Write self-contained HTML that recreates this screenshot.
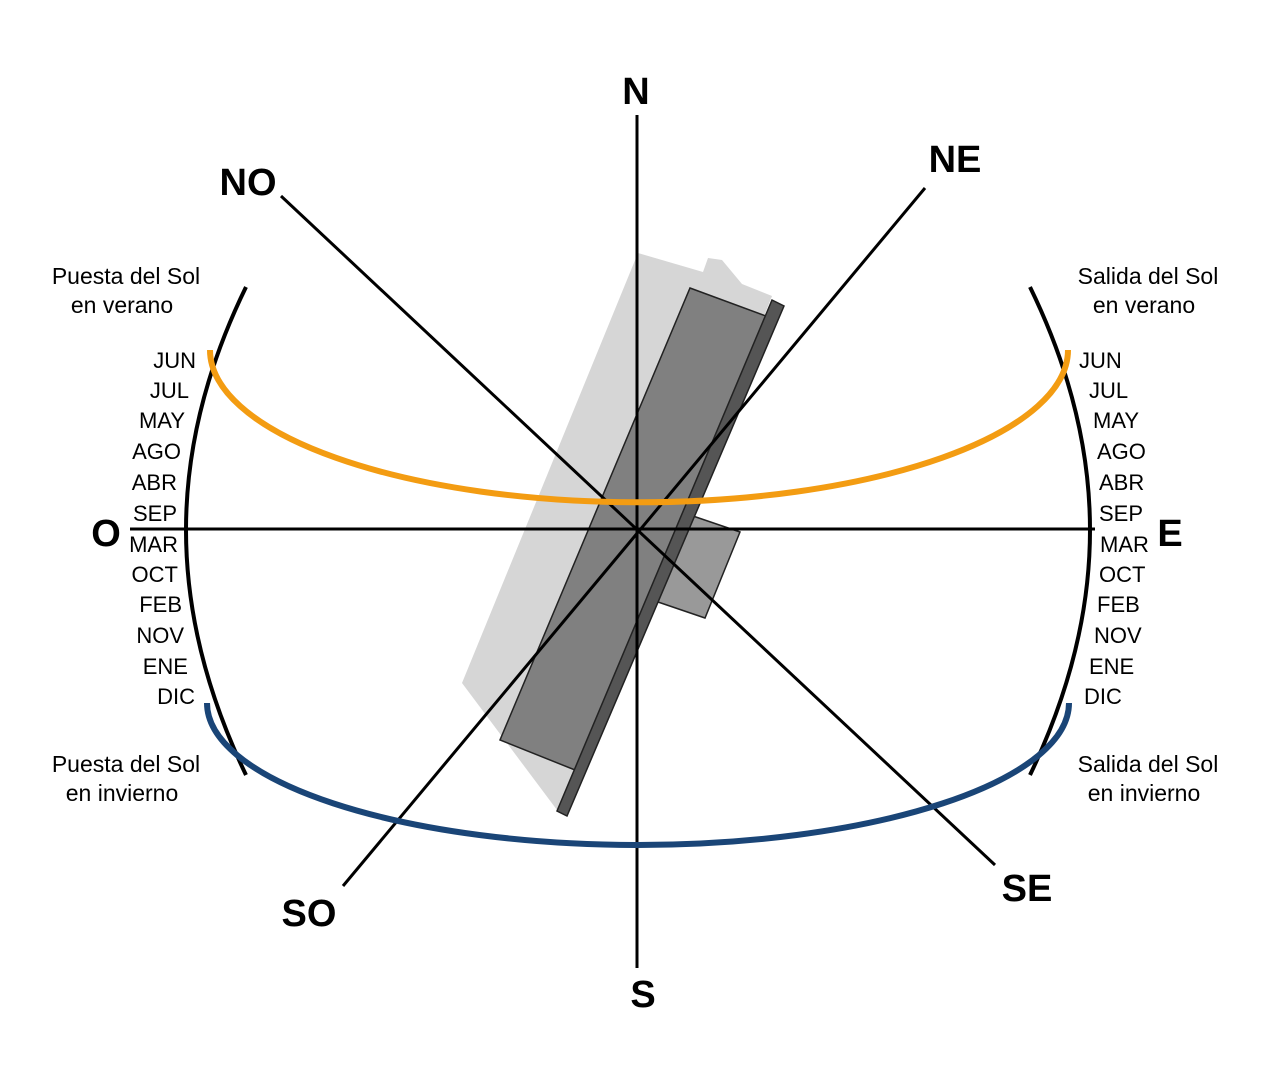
<!DOCTYPE html>
<html><head><meta charset="utf-8"><style>
body{margin:0;background:#fff}
svg text{font-family:"Liberation Sans",sans-serif}
</style></head><body>
<svg width="1280" height="1074" viewBox="0 0 1280 1074" xmlns="http://www.w3.org/2000/svg">
<rect width="1280" height="1074" fill="#fff"/>
<polygon points="638,253 703,272 708,258 722,260 742,284 772,296 567,815 557,810 462,683" fill="#d6d6d6"/>
<polygon points="690,288 766,316 575,770 500,740" fill="#808080" stroke="#222" stroke-width="1.5"/>
<polygon points="690,515 740,532 705,618 658,602" fill="#999" stroke="#222" stroke-width="1.5"/>
<polygon points="772,300 784,306 567,816 557,811" fill="#555" stroke="#222" stroke-width="1.5"/>
<g stroke="#000" stroke-width="3" fill="none">
<line x1="637" y1="115" x2="637" y2="968"/>
<line x1="130" y1="529" x2="1095" y2="529"/>
<line x1="281" y1="196" x2="995" y2="865"/>
<line x1="925" y1="188" x2="343" y2="886"/>
<path d="M246,287 Q186,410 186,530 Q186,650 246,775" stroke-width="4"/>
<path d="M1030,287 Q1090,410 1090,530 Q1090,650 1030,775" stroke-width="4"/>
</g>
<path d="M210,350 A428,152 0 0 0 1068,350" fill="none" stroke="#f39c12" stroke-width="6"/>
<path d="M207,703 A431,142 0 0 0 1069,703" fill="none" stroke="#1a4577" stroke-width="6"/>
<g font-weight="bold" font-size="38" text-anchor="middle">
<text x="636" y="104">N</text><text x="955" y="172">NE</text><text x="248" y="195">NO</text>
<text x="309" y="926">SO</text><text x="1027" y="901">SE</text><text x="643" y="1007">S</text>
<text x="106" y="546">O</text><text x="1170" y="546">E</text>
</g>
<g font-size="23" text-anchor="middle">
<text x="126" y="284">Puesta del Sol</text><text x="122" y="313">en verano</text>
<text x="1148" y="284">Salida del Sol</text><text x="1144" y="313">en verano</text>
<text x="126" y="772">Puesta del Sol</text><text x="122" y="801">en invierno</text>
<text x="1148" y="772">Salida del Sol</text><text x="1144" y="801">en invierno</text>
</g>
<g font-size="22" text-anchor="end">
<text x="196" y="368">JUN</text><text x="189" y="398">JUL</text><text x="185" y="428">MAY</text>
<text x="181" y="459">AGO</text><text x="177" y="490">ABR</text><text x="177" y="521">SEP</text>
<text x="178" y="552">MAR</text><text x="178" y="582">OCT</text><text x="182" y="612">FEB</text>
<text x="184" y="643">NOV</text><text x="188" y="674">ENE</text><text x="195" y="704">DIC</text>
</g>
<g font-size="22">
<text x="1079" y="368">JUN</text><text x="1089" y="398">JUL</text><text x="1093" y="428">MAY</text>
<text x="1097" y="459">AGO</text><text x="1099" y="490">ABR</text><text x="1099" y="521">SEP</text>
<text x="1100" y="552">MAR</text><text x="1099" y="582">OCT</text><text x="1097" y="612">FEB</text>
<text x="1094" y="643">NOV</text><text x="1089" y="674">ENE</text><text x="1084" y="704">DIC</text>
</g>
</svg>
</body></html>
